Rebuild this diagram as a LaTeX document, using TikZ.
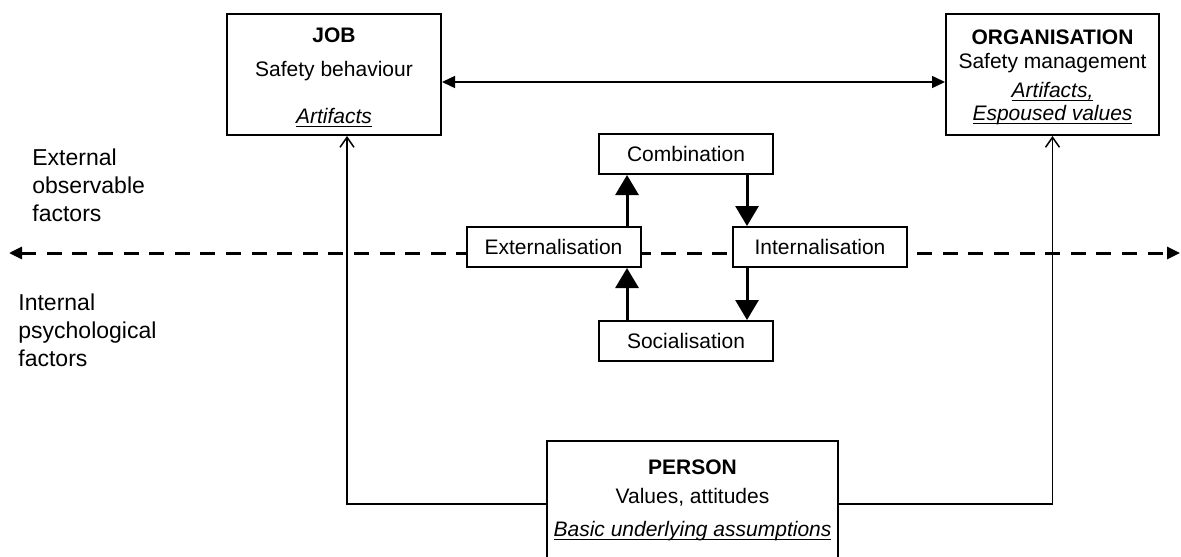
\documentclass[tikz,border=0pt]{standalone}
\usepackage{fontspec}
\setmainfont{Liberation Sans}
\usetikzlibrary{arrows.meta}

% underlined italic text with a rule at a fixed depth
\newcommand{\ulit}[1]{\setbox0\hbox{\itshape #1}\rlap{\rule[-2pt]{\wd0}{0.6pt}}\box0}

\begin{document}
\begin{tikzpicture}[
  x=0.5pt,
  y=-0.5pt,
  every node/.style={font=\fontsize{10.5}{13}\selectfont},
  bigbox/.style={draw,line width=1pt,fill=white,align=center,inner sep=0pt},
  stagebox/.style={draw,line width=1pt,fill=white,inner sep=0pt,minimum width=87pt,minimum height=20pt},
  sidetext/.style={align=left,inner sep=0pt,anchor=north west,font=\fontsize{11.5}{14}\selectfont},
  link/.style={line width=0.75pt,-{Straight Barb[length=5pt,width=7pt]}},
  both/.style={line width=0.75pt,{Triangle[length=6.5pt,width=6pt]}-{Triangle[length=6.5pt,width=6pt]}},
  cycle/.style={line width=1.5pt,-{Triangle[length=10pt,width=11.5pt]}},
  divider/.style={line width=1.5pt,dash pattern=on 7.5pt off 5.3pt,{Triangle[length=6.5pt,width=6pt]}-{Triangle[length=6.5pt,width=6pt]}}
]
  \useasboundingbox (0,0) rectangle (1181,556);
  \clip (0,0) rectangle (1181,556);

  % Split between observable and psychological factors.
  \coordinate (divL) at (9,253);
  \coordinate (divR) at (1180,253);
  \draw[divider] (divL) -- (divR);

  \node[sidetext] (extlabel) at (32,148) {External\\observable\\factors};
  \node[sidetext] (intlabel) at (18,293) {Internal\\psychological\\factors};

  % The three levels.
  \node[bigbox,minimum width=107pt,minimum height=60.5pt] (job) at (334,74.5)
    {\rule{0pt}{11pt}\textbf{JOB}\\[3.5pt]Safety behaviour\\[10.5pt]\ulit{Artifacts}\rule[-2.5pt]{0pt}{0pt}};
  \node[bigbox,minimum width=106.5pt,minimum height=60.5pt] (org) at (1052.5,74.5)
    {\rule{0pt}{10pt}\textbf{ORGANISATION}\\[-1pt]Safety management\\[1.5pt]\ulit{Artifacts,}\\[-1.5pt]\ulit{Espoused values}\rule[-2.5pt]{0pt}{0pt}};
  \node[bigbox,minimum width=145.5pt,minimum height=63pt] (person) at (692.5,504)
    {\rule{0pt}{8pt}\textbf{PERSON}\\[1.5pt]Values, attitudes\\[3.5pt]\ulit{Basic underlying assumptions}\rule[-7pt]{0pt}{0pt}};

  % Knowledge conversion cycle.
  \node[stagebox] (comb) at (686,154) {Combination};
  \node[stagebox] (ext) at (553.5,247) {Externalisation};
  \node[stagebox] (int) at (820,247) {Internalisation};
  \node[stagebox] (soc) at (686,341) {Socialisation};

  \coordinate (upx) at (627,0);
  \coordinate (downx) at (747,0);
  \draw[cycle] (ext.north -| upx) -- (comb.south -| upx);
  \draw[cycle] (comb.south -| downx) -- (int.north -| downx);
  \draw[cycle] (int.south -| downx) -- (soc.north -| downx);
  \draw[cycle] (soc.north -| upx) -- (ext.south -| upx);

  % Links between the levels.
  \coordinate (topy) at (0,82);
  \coordinate (jobx) at (347,0);
  \draw[both] (job.east |- topy) -- (org.west |- topy);
  \draw[link] (person.west) -| (job.south -| jobx);
  \draw[link] (person.east) -| (org.south);
\end{tikzpicture}
\end{document}
